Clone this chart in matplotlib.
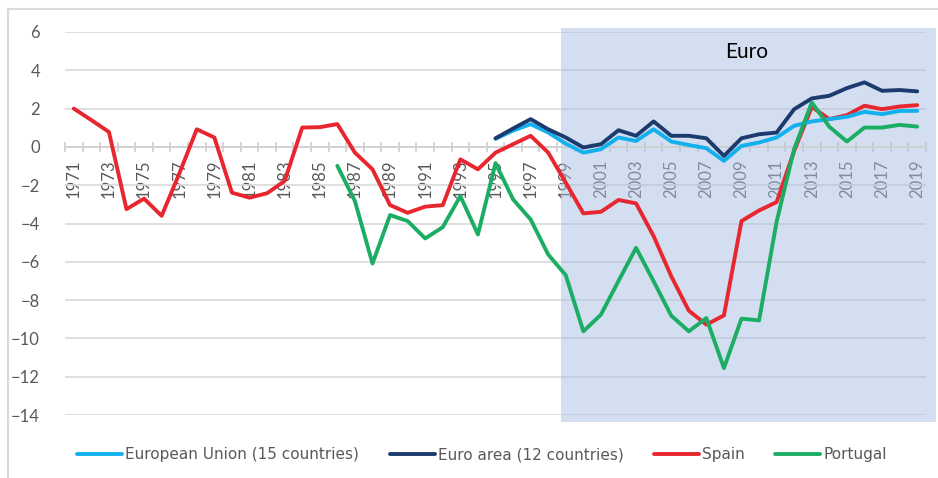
import numpy as np
import matplotlib
matplotlib.use('Agg')
import matplotlib.pyplot as plt
from matplotlib.patches import Rectangle
from matplotlib.ticker import FixedLocator

# annual values, 1971-2019
years = np.arange(1971, 2020)

spain = [2.0, 1.4, 0.78, -3.25, -2.7, -3.6, -1.4, 0.92, 0.49, -2.39,
         -2.65, -2.42, -1.78, 1.01, 1.03, 1.19, -0.3, -1.17, -3.04, -3.44,
         -3.12, -3.04, -0.65, -1.17, -0.3, 0.14, 0.58, -0.3, -1.87, -3.47,
         -3.39, -2.77, -2.95, -4.66, -6.75, -8.55, -9.28, -8.8, -3.87, -3.32,
         -2.88, -0.2, 2.09, 1.45, 1.66, 2.15, 1.97, 2.11, 2.18]

portugal_years = np.arange(1986, 2020)
portugal = [-0.99, -2.83, -6.09, -3.56, -3.87, -4.78, -4.19, -2.57, -4.57, -0.85,
            -2.74, -3.79, -5.62, -6.7, -9.63, -8.76, -7.0, -5.27, -7.02, -8.81,
            -9.63, -8.94, -11.55, -8.97, -9.06, -3.9, -0.1, 2.32, 1.05, 0.28,
            1.01, 1.01, 1.15, 1.06]

euro_years = np.arange(1995, 2020)
euro_area = [0.45, 0.96, 1.45, 0.92, 0.49, -0.03, 0.14, 0.87, 0.58, 1.33,
             0.58, 0.58, 0.45, -0.47, 0.45, 0.66, 0.75, 1.97, 2.53, 2.67,
             3.07, 3.37, 2.93, 2.97, 2.9]
eu15 = [0.42, 0.85, 1.19, 0.75, 0.17, -0.3, -0.12, 0.49, 0.31, 0.92,
        0.28, 0.1, -0.07, -0.73, 0.05, 0.23, 0.49, 1.1, 1.33, 1.45,
        1.57, 1.83, 1.71, 1.88, 1.88]

W, H = 938, 478
fig = plt.figure(figsize=(W / 100, H / 100), dpi=100)
ax = fig.add_axes([65 / W, 1 - 415 / H, 861 / W, 383 / H])
ax.set_facecolor('none')

grey = '#595959'
ax.plot(years, spain, color='#E8262F', lw=2.8, label='Spain', zorder=3, solid_capstyle='round')
ax.plot(portugal_years, portugal, color='#1CAD64', lw=2.8, label='Portugal', zorder=4, solid_capstyle='round')
ax.plot(euro_years, eu15, color='#12B0EC', lw=2.8, label='European Union (15 countries)', zorder=3.5, solid_capstyle='round')
ax.plot(euro_years, euro_area, color='#1B3A6E', lw=2.8, label='Euro area (12 countries)', zorder=3.6, solid_capstyle='round')

ax.set_xlim(1970.5, 2019.5)
ax.set_ylim(-14, 6)
ax.set_yticks(np.arange(-14, 7, 2))
ax.yaxis.grid(True, color='#D9D9D9', lw=1.2, zorder=1)
ax.tick_params(axis='y', length=0, pad=18, labelsize=12, labelcolor=grey)

for s in ['top', 'right', 'left']:
    ax.spines[s].set_visible(False)
ax.spines['bottom'].set_position(('data', 0))
ax.spines['bottom'].set_color('#D0D0D0')
ax.spines['bottom'].set_linewidth(1.2)

# tick marks between categories, labels on every second year
ax.xaxis.set_major_locator(FixedLocator(np.arange(1970.5, 2020, 1)))
ax.xaxis.set_minor_locator(FixedLocator(years[::2]))
ax.tick_params(axis='x', which='major', direction='inout', length=7, width=1.2,
               color='#D0D0D0', labelbottom=False)
ax.tick_params(axis='x', which='minor', length=0, pad=9, labelsize=12, labelcolor=grey)
ax.set_xticklabels([str(y) for y in years[::2]], minor=True, rotation=90, va='top')

for t in ax.get_yticklabels() + ax.get_xticklabels(minor=True):
    t.set_family(['Lato', 'DejaVu Sans'])

# euro period shading
ax.add_patch(Rectangle((561 / W, 1 - 422 / H), 375 / W, 394 / H, transform=fig.transFigure,
                       facecolor='#A8BEE2', alpha=0.5, edgecolor='none', zorder=2, clip_on=False))
fig.text(747 / W, 1 - 52 / H, 'Euro', ha='center', va='center', fontsize=15,
         family=['Lato', 'DejaVu Sans'], color='black')

# chart frame
fig.add_artist(plt.Line2D([8 / W, 8 / W], [0, 1 - 9 / H], transform=fig.transFigure, color='#D9D9D9', lw=1.5))
fig.add_artist(plt.Line2D([8 / W, 1], [1 - 9 / H, 1 - 9 / H], transform=fig.transFigure, color='#D9D9D9', lw=1.5))

handles, labels = ax.get_legend_handles_labels()
order = [2, 3, 0, 1]
leg = fig.legend([handles[i] for i in order], [labels[i] for i in order],
                 loc='center', bbox_to_anchor=(482 / W, 1 - 455 / H), ncol=4, frameon=False,
                 handlelength=2.95, handletextpad=0.2, columnspacing=2.0,
                 prop={'family': 'DejaVu Sans', 'size': 11})
for t in leg.get_texts():
    t.set_color(grey)

fig.savefig('out.png', dpi=100)
